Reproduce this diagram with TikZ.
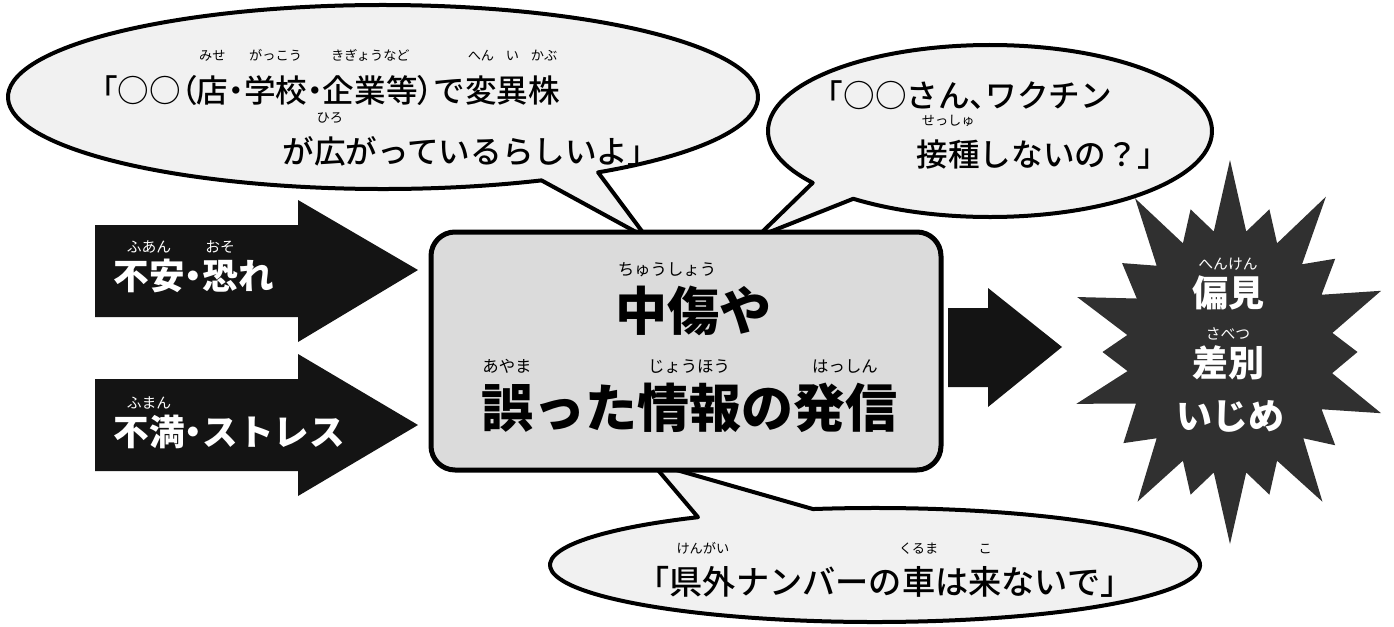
\documentclass[tikz,border=0pt]{standalone}
\usepackage{fontspec}
\newfontfamily\jp{Noto Sans CJK JP}
\IfFontExistsTF{Noto Sans CJK JP Medium}{\newfontfamily\jpmed{Noto Sans CJK JP Medium}}{\let\jpmed\jp}
\IfFontExistsTF{Noto Sans CJK JP Black}{\newfontfamily\jpblack{Noto Sans CJK JP Black}}{\def\jpblack{\jp\bfseries}}
\definecolor{bubblefill}{gray}{0.945}
\definecolor{boxfill}{gray}{0.86}
\definecolor{arrowblack}{gray}{0.08}
\definecolor{starfill}{gray}{0.19}
\newdimen\rubyup
\def\rubyfont{}
\newcommand\rb[2]{\leavevmode\setbox0=\hbox{#1}\rlap{\hbox to\wd0{\hss\smash{\raisebox{\rubyup}{\rubyfont #2}}\hss}}\box0}
\newcommand\setjp[4]{#1\fontsize{#2}{#2}\selectfont\def\rubyfont{\jp\fontsize{#3}{#3}\selectfont}\rubyup=#4em\relax}
\newcommand\pl[1]{{\addfontfeatures{RawFeature=+palt}#1}}
\begin{document}
\begin{tikzpicture}[x=0.5pt,y=-0.5pt,line join=round,
  bubble/.style={draw=black,line width=2pt,fill=bubblefill},
  blockarrow/.style={fill=arrowblack},
  bubtext/.style={font=\setjp{\jpmed}{15.8}{6.6}{1.3},inner sep=0pt},
  boxtext/.style={font=\setjp{\jpblack}{26}{8.2}{1.06},inner sep=0pt},
  arrtext/.style={font=\setjp{\jpblack}{17.8}{7.4}{1.05},text=white,inner sep=0pt},
  startext/.style={font=\setjp{\jpblack}{18}{7.4}{1.02},text=white,inner sep=0pt}]
\useasboundingbox (0,0) rectangle (1394,627);
\fill[white] (0,0) rectangle (1394,627);

% top-left bubble
\draw[bubble] (383,97) ++(55:375 and 92) arc[start angle=55,end angle=-295,x radius=375,y radius=92] -- (647,238) -- cycle;
% top-right bubble
\draw[bubble] (990,131) ++(128:222 and 86) arc[start angle=128,end angle=-217,x radius=222,y radius=86] -- (757,237) -- cycle;
% bottom bubble
\draw[bubble] (875,565) ++(259:325 and 57) arc[start angle=259,end angle=597,x radius=325,y radius=57] -- (652,463) -- cycle;

% central box
\node[draw=black,line width=2.5pt,fill=boxfill,rounded corners=12pt,minimum width=255pt,minimum height=119pt,inner sep=0pt] (box) at (686,351) {};

% left arrows
\fill[blockarrow] (95,225) -- (298,225) -- (298,200) -- (418,270) -- (298,342) -- (298,317) -- (95,317) -- cycle;
\fill[blockarrow] (95,379) -- (298,379) -- (298,354) -- (418,425) -- (298,496) -- (298,471) -- (95,471) -- cycle;
% right arrow
\fill[blockarrow] (948,308) -- (988,308) -- (988,288) -- (1062,347) -- (988,407) -- (988,387) -- (948,387) -- cycle;

% star burst
\begin{scope}[shift={(1230,352)},xscale=0.85]
\fill[starfill] (270:192)
  \foreach \a/\r in {288/150,306/192,323/155,341/188,360/150,379/188,397/155,414/185,432/150,450/192,468/150,486/185,504/155,524/188,540/150,557/188,575/155,594/190,612/150}
  { -- ({\a-9}:122) -- (\a:\r) } -- (621:122) -- cycle;
\end{scope}

% texts
\node[bubtext] (tl1) at (323,90) {「○○\pl{（}\rb{店}{みせ}\pl{・}\rb{学校}{がっこう}\pl{・}\rb{企業等}{きぎょうなど}\pl{）}で\rb{変}{へん}\rb{異}{い}\rb{株}{かぶ}};
\node[bubtext] (tl2) at (471,151) {が\rb{広}{ひろ}がっているらしいよ」};
\node[bubtext] (tr1) at (962,95) {「○○さん\pl{、}ワクチン};
\node[bubtext] (tr2) at (1043,155) {\rb{接種}{せっしゅ}しないの？」};
\node[bubtext,font=\setjp{\jpmed}{16.6}{6.6}{1.25}] (bt) at (885,582) {「\rb{県外}{けんがい}ナンバーの\rb{車}{くるま}は\rb{来}{こ}ないで」};

\node[boxtext] (b1) at (693,311) {\rb{中傷}{ちゅうしょう}や};
\node[boxtext] (b2) at (689,408) {\rb{誤}{あやま}った\rb{情報}{じょうほう}の\rb{発信}{はっしん}};

\node[arrtext,anchor=west] (a1) at (113,276) {\rb{不安}{ふあん}\pl{・}\rb{恐}{おそ}れ};
\node[arrtext,anchor=west] (a2) at (113,432) {\rb{不満}{ふまん}\pl{・}ストレス};

\node[startext] (s1) at (1228,293) {\rb{偏見}{へんけん}};
\node[startext] (s2) at (1228,363) {\rb{差別}{さべつ}};
\node[startext] (s3) at (1230,416) {いじめ};
\end{tikzpicture}
\end{document}
